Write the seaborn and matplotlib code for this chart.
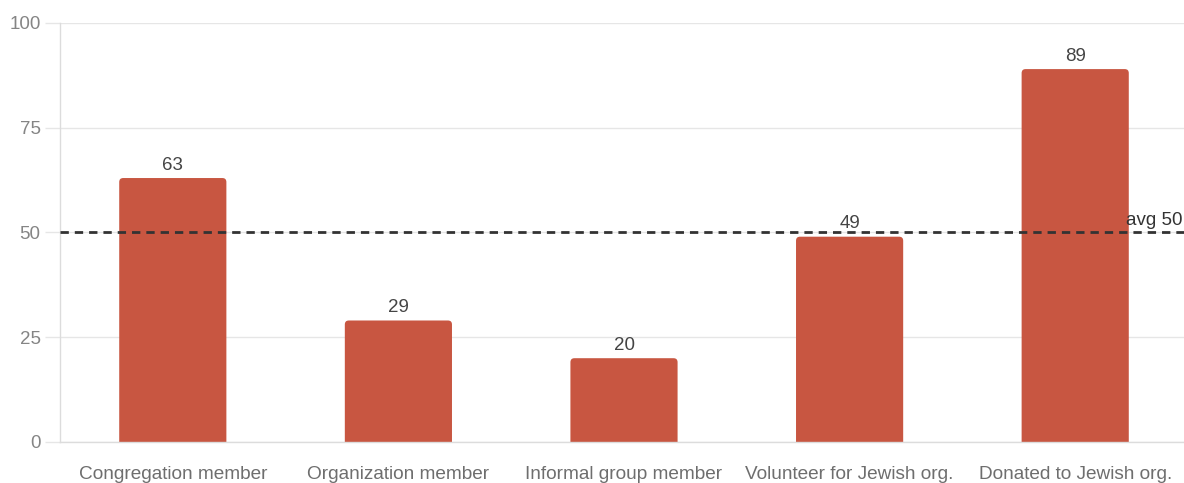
import matplotlib
matplotlib.use("Agg")
import matplotlib.pyplot as plt
import matplotlib.transforms as mtransforms
from matplotlib.patches import FancyBboxPatch
import seaborn as sns
import pandas as pd

categories = ["Congregation member", "Organization member", "Informal group member",
              "Volunteer for Jewish org.", "Donated to Jewish org."]
values = [63, 29, 20, 49, 89]
y_ticks = [0, 25, 50, 75, 100]

sns.set_theme(style="white")
plt.rcParams["font.family"] = ["Liberation Sans", "DejaVu Sans"]
plt.rcParams["lines.scale_dashes"] = False

W, H = 1184, 483
fig = plt.figure(figsize=(W / 100, H / 100), dpi=100)
ax_w_px, ax_h_px = 1128, 419
ax = fig.add_axes([60 / W, 1 - 442 / H, ax_w_px / W, ax_h_px / H])

bar_color = "#c85641"
df = pd.DataFrame({"category": categories, "value": values})
sns.barplot(data=df, x="category", y="value", color=bar_color, saturation=1,
            width=0.475, ax=ax, zorder=2)

ax.set_xlim(-0.5, len(categories) - 0.5)
ax.set_ylim(0, 100)

# swap the plain rectangles for ones with softly rounded top corners
px_per_x = ax_w_px / len(categories)
px_per_y = ax_h_px / 100
radius_px = 4
for rect in list(ax.patches):
    x0, w, h = rect.get_x(), rect.get_width(), rect.get_height()
    rect.set_visible(False)
    ax.add_patch(FancyBboxPatch(
        (x0, -3), w, h + 3,
        boxstyle=f"round,pad=0,rounding_size={radius_px / px_per_x}",
        mutation_aspect=px_per_x / px_per_y,
        facecolor=bar_color, edgecolor="none", zorder=2, clip_on=True))

ax.set_yticks(y_ticks)
ax.set_xlabel("")
ax.set_ylabel("")

grid_c = "#e6e6e6"
ax.yaxis.grid(True, color=grid_c, linewidth=1, zorder=0)
ax.set_axisbelow(True)
for side in ["top", "right"]:
    ax.spines[side].set_visible(False)
for side in ["left", "bottom"]:
    ax.spines[side].set_color("#dcdcdc")
    ax.spines[side].set_linewidth(1)

ax.tick_params(axis="y", length=11, width=1, color=grid_c, pad=3,
               labelsize=13.5, labelcolor="#858585", left=True)
ax.tick_params(axis="x", length=0, pad=17, labelsize=13.7, labelcolor="#6e6e6e")

for i, v in enumerate(values):
    ax.text(i, v + 1.0, f"{v}", ha="center", va="bottom", fontsize=13.5, color="#444444")

avg = sum(values) / len(values)
ax.axhline(avg, color="#333333", linewidth=2, dashes=(6, 4.3), zorder=3)
trans = mtransforms.blended_transform_factory(fig.transFigure, ax.transData)
ax.text(1182 / W, avg + 0.8, f"avg {avg:.0f}", transform=trans, ha="right", va="bottom",
        fontsize=13.5, color="#333333", zorder=4)

fig.savefig("out.png", dpi=100)
